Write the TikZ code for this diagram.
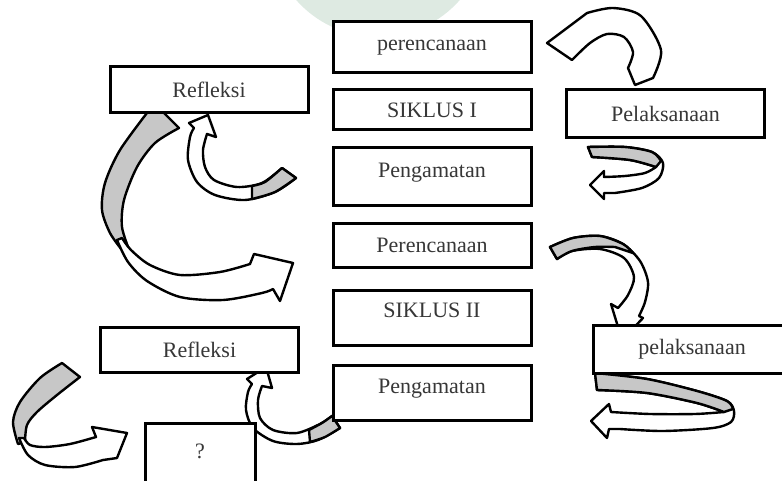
\documentclass[tikz,border=0pt]{standalone}
\usepackage{fontspec}
\setmainfont{Liberation Serif}
\definecolor{wmark}{RGB}{222,234,226}
\definecolor{labelgray}{RGB}{55,55,55}

\begin{document}
\begin{tikzpicture}[x=0.5pt, y=-0.5pt,
  stage/.style={draw, fill=white, line width=1.5pt, minimum width=99pt,
    inner sep=0pt, text=labelgray, font=\fontsize{11}{13}\selectfont},
  ribbon/.style={draw, fill=white, line width=1.2pt, line join=round},
  ribbonback/.style={ribbon, fill=black!22}]
  \useasboundingbox (0,0) rectangle (782,481);
  \fill[wmark] (378,-72) circle (109);

  \filldraw[ribbon] (547,43) -- (572,60) -- plot[smooth] coordinates {(572,60) (590,43) (607,34) (624,37) (633,52) (628,68)} -- (635,85) -- plot[smooth] coordinates {(653,78) (661,50) (641,16) (613,8) (587,13)} -- cycle;

  \filldraw[ribbon] (588,147) -- plot[smooth] coordinates {(588,147) (625,147) (652,152) (663,163) (659,178) (642,188) (615,193)} -- (604,193) -- (604,199) -- (590,185) -- (604,171) -- (604,177) -- plot[smooth] coordinates {(604,177) (625,176) (645,173) (656,167)} -- plot[smooth] coordinates {(656,167) (630,160) (592,157)} -- cycle;
  \filldraw[ribbonback] (588,147) -- plot[smooth] coordinates {(588,147) (625,147) (652,152) (661,161)} -- plot[smooth] coordinates {(656,167) (630,160) (592,157)} -- cycle;

  \filldraw[ribbonback] (157,106) -- (179,128) -- plot[smooth] coordinates {(179,128) (155,143) (137,167) (124,200) (122,227) (130,252)} -- plot[smooth] coordinates {(122,250) (110,233) (102,210) (105,183) (120,150) (150,109)} -- cycle;
  \filldraw[ribbon] (117,240) -- plot[smooth] coordinates {(117,240) (128,262) (147,281) (180,297) (223,300) (262,293) (273,289)} -- (280,301) -- (293,263) -- (254,254) -- (250,264) -- plot[smooth] coordinates {(250,264) (220,272) (180,275) (150,265) (131,250) (122,238)} -- cycle;

  \filldraw[ribbon] (208,115) -- (216,137) -- (207,134) -- plot[smooth] coordinates {(207,134) (203,150) (205,167) (214,180) (237,187) (262,183) (282,168)} -- (296,178) -- plot[smooth] coordinates {(296,178) (275,192) (245,200) (215,195) (197,182) (188,160) (190,137) (194,128)} -- (189,123) -- cycle;
  \filldraw[ribbonback] (282,168) -- (296,178) -- plot[smooth] coordinates {(296,178) (275,192) (252,199)} -- plot[smooth] coordinates {(252,186) (265,182) (282,168)} -- cycle;

  \filldraw[ribbon] (550,247) -- plot[smooth] coordinates {(550,247) (573,238) (600,236) (623,244) (640,261) (648,282) (645,302) (639,316)} -- (643,318) -- (622,340) -- (611,304) -- (618,308) -- plot[smooth] coordinates {(618,308) (628,295) (634,277) (624,258) (600,249) (572,251) (557,259)} -- cycle;
  \filldraw[ribbonback] (550,247) -- plot[smooth] coordinates {(550,247) (573,238) (600,236) (623,244) (633,253)} -- plot[smooth] coordinates {(615,247) (595,247) (572,251) (557,259)} -- cycle;

  \filldraw[ribbon] (595,373) -- plot[smooth] coordinates {(595,373) (647,379) (697,391) (727,401) (734,411) (731,422) (713,428) (663,431) (620,429)} -- (609,429) -- (607,438) -- (591,421) -- (609,404) -- (611,412) -- plot[smooth] coordinates {(611,412) (650,414) (695,414) (724,412)} -- plot[smooth] coordinates {(724,412) (697,403) (647,393) (597,390)} -- cycle;
  \filldraw[ribbonback] (595,373) -- plot[smooth] coordinates {(595,373) (647,379) (697,391) (727,401) (733,409)} -- plot[smooth] coordinates {(724,412) (697,403) (647,393) (597,390)} -- cycle;

  \filldraw[ribbon] (266,367) -- (272,388) -- (262,386) -- plot[smooth] coordinates {(262,386) (258,400) (260,418) (273,430) (297,433) (320,424) (332,416)} -- (340,428) -- plot[smooth] coordinates {(340,428) (318,440) (297,444) (273,441) (253,428) (246,410) (248,392) (252,384)} -- (247,379) -- cycle;
  \filldraw[ribbonback] (332,416) -- (340,428) -- plot[smooth] coordinates {(340,428) (325,437) (310,442)} -- plot[smooth] coordinates {(309,430) (322,423) (332,416)} -- cycle;

  \filldraw[ribbonback] (62,363) -- (80,377) -- plot[smooth] coordinates {(80,377) (57,395) (37,412) (27,425) (25,442)} -- plot[smooth] coordinates {(18,444) (13,422) (20,402) (40,378) (62,363)} -- cycle;
  \filldraw[ribbon] (19,438) -- plot[smooth] coordinates {(19,438) (28,455) (45,465) (75,467) (103,460)} -- (117,458) -- (127,433) -- (92,427) -- (96,437) -- plot[smooth] coordinates {(96,437) (70,444) (45,447) (30,445) (24,438)} -- cycle;

  \node[stage, minimum height=25.5pt] (plan1) at (432,47.5) {perencanaan};
  \node[stage, minimum height=20pt] (cycle1) at (432,110) {SIKLUS I};
  \node[stage, minimum height=28.5pt, text depth=6pt] (observe1) at (432,176.5) {Pengamatan};
  \node[stage, minimum height=22pt] (plan2) at (432,245) {Perencanaan};
  \node[stage, minimum height=27.5pt, text depth=7pt] (cycle2) at (432,317.5) {SIKLUS II};
  \node[stage, minimum height=27.5pt, text depth=6pt] (observe2) at (432,392.5) {Pengamatan};

  \node[stage, minimum height=23pt] (reflect1) at (209,90) {Refleksi};
  \node[stage, minimum height=24pt] (act1) at (665.5,114) {Pelaksanaan};
  \node[stage, minimum height=22.5pt] (reflect2) at (199.5,349.5) {Refleksi};
  \node[stage, minimum height=24pt] (act2) at (692,349) {pelaksanaan};
  \node[stage, minimum width=55pt, minimum height=34pt, text depth=6pt] (unknown) at (200,457) {?};
\end{tikzpicture}
\end{document}
